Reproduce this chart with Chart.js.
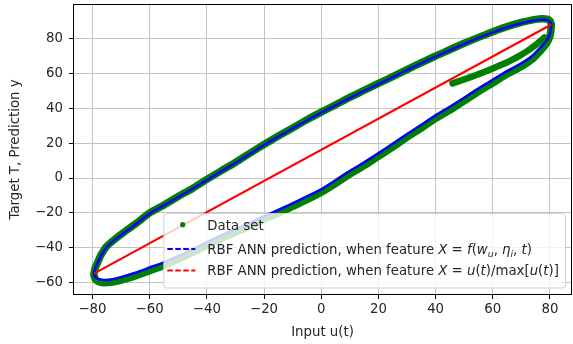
<!DOCTYPE html>
<html><head><meta charset="utf-8">
<script src="https://cdn.jsdelivr.net/npm/chart.js@4/dist/chart.umd.min.js"></script>
<style>html,body{margin:0;padding:0;background:#fff}#wrap{width:573px;height:344px}</style>
</head><body><div id="wrap"><canvas id="c" width="573" height="344"></canvas></div>
<script>
// ---- data ----
const xTicks = [-80, -60, -40, -20, 0, 20, 40, 60, 80];
const yTicks = [-60, -40, -20, 0, 20, 40, 60, 80];

// upper branch of the loop (u increasing)
const uUpper = [-79.5,-79,-78,-77,-75,-72,-69,-65,-60,-55,-50,-45,-40,-35,-30,-25,-20,-15,-10,-5,0,5,10,15,20,25,30,35,40,45,50,55,60,65,70,74,77,79,80,80.5];
const yUpperPred = [-55,-52,-48,-44.8,-39.6,-35.3,-31.7,-26.8,-20.5,-15.7,-11,-6.2,-1.2,3.8,8.7,13.8,19,23.8,28.5,33.1,37.6,41.8,46,50.1,54,58,62,66,69.8,73.5,77.1,80.6,83.8,86.7,89,90.5,91.1,90.9,90,88.3];
const yUpperData = [-55.3,-51.6,-47.8,-44.2,-39.2,-35.0,-31.2,-26.5,-20.1,-15.5,-10.6,-6.0,-0.8,4.1,8.9,14.2,19.3,24.1,28.8,33.5,37.9,42.1,46.4,50.4,54.4,58.3,62.4,66.3,70.2,73.8,77.5,80.9,84.2,87.1,89.5,91.0,91.6,91.4,90.4,88.3];

// lower branch of the loop (u decreasing)
const uLower = [80.5,80.3,80,79,77,74,70,65,60,55,50,45,40,35,30,25,20,15,10,5,0,-5,-10,-15,-20,-25,-30,-35,-40,-45,-50,-55,-60,-65,-70,-73,-76,-78,-79,-79.5];
const yLowerPred = [88.3,85.5,83,79.5,75.5,70.5,66,61.5,56.5,51.5,46.2,41,36,30.6,25.2,19.7,14.2,9,4,-1.3,-6.5,-10.6,-14.6,-18.4,-22,-25.8,-29.5,-33,-37,-41,-45,-48.5,-51.5,-54.5,-57,-58.2,-58.7,-58,-57,-55];
const yLowerData = [88.0,84.6,81.6,77.9,73.8,68.7,64.1,59.8,54.6,49.8,44.4,39.1,34.3,28.7,23.5,17.8,12.5,7.1,2.3,-3.2,-8.2,-12.5,-16.3,-20.3,-23.7,-27.7,-31.2,-34.9,-38.7,-42.8,-46.7,-50.3,-53.3,-56.3,-58.7,-59.8,-60.2,-59.5,-58.2,-55.6];

// short inner branch of the data set
const uInner = [45.9,48,51,54,57,60,63,66,69,72,75,78];
const yInnerData = [54.4,55.6,57.3,59.1,61.0,63.0,65.1,67.4,70.0,73.0,76.6,80.8];

// linear-feature prediction
const uLinear = [-79.5, 80.5];
const yLinear = [-55, 88.3];

const xTitle = 'Input u(t)';
const yTitle = 'Target T, Prediction y';
const legendDataLabel = [['Data set','n']];
const legendPredF = [['RBF ANN prediction, when feature ','n'],['X','i'],[' = ','n'],['f','i'],['(','n'],['w','i'],['u','s'],[', ','n'],['\u03b7','i'],['i','s'],[', ','n'],['t','i'],[')','n']];
const legendPredU = [['RBF ANN prediction, when feature ','n'],['X','i'],[' = ','n'],['u','i'],['(','n'],['t','i'],[')/max[','n'],['u','i'],['(','n'],['t','i'],[')]','n']];

// ---- build ----
const zip = (xs, ys) => xs.map((x, i) => ({x, y: ys[i]}));
const dataMain = zip(uUpper, yUpperData).concat(zip(uLower, yLowerData));
const dataInner = zip(uInner, yInnerData);
const predF = zip(uUpper, yUpperPred).concat(zip(uLower, yLowerPred));
const predU = zip(uLinear, yLinear);

const FS = 13.3;
const FAM = '"DejaVu Sans", sans-serif';
const TXT = '#262626';
const fmt = v => (v < 0 ? '\u2212' + Math.abs(v) : String(v));

const framePlugin = {
  id: 'frame',
  afterDatasetsDraw(chart) {
    const {ctx, chartArea: a} = chart;
    ctx.save();
    ctx.strokeStyle = '#000';
    ctx.lineWidth = 1;
    ctx.strokeRect(a.left + 0.5, a.top + 0.5, a.right - a.left - 1, a.bottom - a.top - 1);
    ctx.restore();
  }
};

function drawRich(ctx, segs, x, base) {
  for (const [t, st] of segs) {
    let dy = 0;
    if (st === 'n') ctx.font = `${FS}px ${FAM}`;
    else if (st === 'i') ctx.font = `italic ${FS}px ${FAM}`;
    else { ctx.font = `italic ${FS * 0.7}px ${FAM}`; dy = FS * 0.22; }
    ctx.fillText(t, x, base + dy);
    x += ctx.measureText(t).width;
  }
}

const legendPlugin = {
  id: 'mplLegend',
  afterDraw(chart) {
    const {ctx, chartArea: a} = chart;
    const right = a.right - 7, bottom = a.bottom - 7.5;
    const w = 401.7, h = 74.5;
    const left = right - w, top = bottom - h;
    ctx.save();
    ctx.beginPath();
    ctx.roundRect(left + 0.5, top + 0.5, w, h, 3);
    ctx.fillStyle = 'rgba(255,255,255,0.8)';
    ctx.fill();
    ctx.strokeStyle = 'rgba(204,204,204,0.9)';
    ctx.lineWidth = 1;
    ctx.stroke();

    const hx0 = left + 4, hx1 = left + 32, tx = left + 44;
    const rows = [top + 11.7, top + 36, top + 57.4];
    ctx.fillStyle = '#008000';
    ctx.beginPath(); ctx.arc(left + 19.4, rows[0], 2.6, 0, Math.PI * 2); ctx.fill();
    ctx.lineWidth = 2;
    ctx.setLineDash([5.5, 2.5]);
    ctx.strokeStyle = '#0000ff';
    ctx.beginPath(); ctx.moveTo(hx0, rows[1]); ctx.lineTo(hx1, rows[1]); ctx.stroke();
    ctx.strokeStyle = '#ff0000';
    ctx.beginPath(); ctx.moveTo(hx0, rows[2]); ctx.lineTo(hx1, rows[2]); ctx.stroke();
    ctx.setLineDash([]);
    ctx.fillStyle = TXT;
    ctx.textBaseline = 'alphabetic';
    ctx.textAlign = 'left';
    const capHalf = FS * 0.365;
    drawRich(ctx, legendDataLabel, tx, rows[0] + capHalf);
    drawRich(ctx, legendPredF, tx, rows[1] + capHalf);
    drawRich(ctx, legendPredU, tx, rows[2] + capHalf);
    ctx.restore();
  }
};

const gridCfg = {color: '#c4c4c4', lineWidth: 1, tickLength: 4, tickColor: '#000', tickWidth: 1, drawTicks: true};
const tickFont = {family: FAM, size: FS};
const noPad = s => { s.paddingTop = 0; s.paddingBottom = 0; s.paddingLeft = 0; s.paddingRight = 0; };

new Chart(document.getElementById('c'), {
  type: 'scatter',
  data: {
    datasets: [
      {label: 'Data set', data: dataMain, showLine: true, borderColor: '#008000', backgroundColor: '#008000', borderWidth: 7.5, pointRadius: 0, tension: 0.2, borderJoinStyle: 'round', borderCapStyle: 'round', order: 3},
      {label: 'Data set (inner)', data: dataInner, showLine: true, borderColor: '#008000', backgroundColor: '#008000', borderWidth: 6.5, pointRadius: 0, tension: 0.2, borderJoinStyle: 'round', borderCapStyle: 'round', order: 3},
      {label: 'RBF f', data: predF, showLine: true, borderColor: '#0000ff', backgroundColor: '#0000ff', borderWidth: 2.5, pointRadius: 0, tension: 0.2, borderJoinStyle: 'round', order: 2},
      {label: 'RBF u', data: predU, showLine: true, borderColor: '#ff0000', backgroundColor: '#ff0000', borderWidth: 2.2, pointRadius: 0, order: 1}
    ]
  },
  options: {
    responsive: false, animation: false, devicePixelRatio: 1,
    layout: {padding: {top: 4, right: 1, left: 0, bottom: 0}},
    plugins: {legend: {display: false}, tooltip: {enabled: false}},
    scales: {
      x: {
        type: 'linear', position: 'bottom', min: -86.8, max: 87.7,
        afterBuildTicks: s => { s.ticks = xTicks.map(v => ({value: v})); },
        afterFit: s => { s.height = 49; noPad(s); },
        grid: gridCfg, border: {display: false},
        ticks: {padding: 2.5, color: TXT, font: tickFont, callback: v => fmt(v), maxRotation: 0, autoSkip: false},
        title: {display: true, text: xTitle, color: TXT, font: tickFont, padding: {top: 0, bottom: 3}}
      },
      y: {
        type: 'linear', position: 'left', min: -67.3, max: 100.1,
        afterBuildTicks: s => { s.ticks = yTicks.map(v => ({value: v})); },
        afterFit: s => { s.width = 73; noPad(s); },
        grid: gridCfg, border: {display: false},
        ticks: {padding: 6, color: TXT, font: tickFont, callback: v => fmt(v), autoSkip: false},
        title: {display: true, text: yTitle, color: TXT, font: tickFont, padding: {top: 8, bottom: 0}}
      }
    }
  },
  plugins: [framePlugin, legendPlugin]
});
</script>
</body></html>
